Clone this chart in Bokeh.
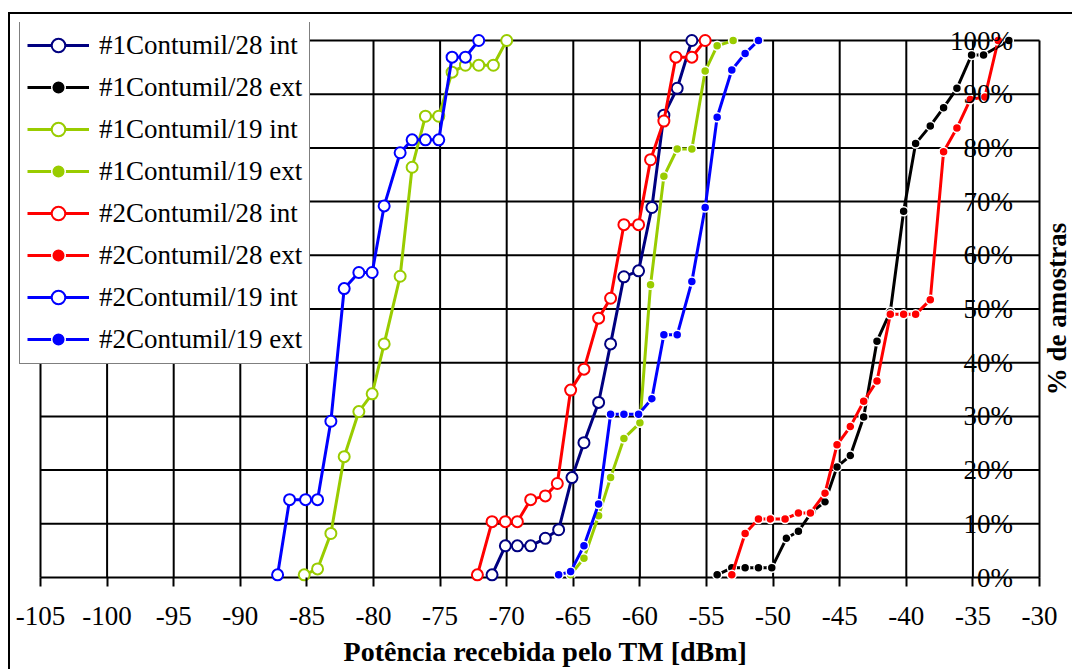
from bokeh.plotting import figure
from bokeh.models import Range1d, FixedTicker, Legend, LegendItem, Label, ColumnDataSource
from bokeh.core.properties import value
from bokeh.embed import file_html
from bokeh.resources import INLINE

# ---------------- data ----------------
x_ticks = [-105, -100, -95, -90, -85, -80, -75, -70, -65, -60, -55, -50, -45, -40, -35, -30]
x_tick_labels = ["-105", "-100", "-95", "-90", "-85", "-80", "-75", "-70", "-65", "-60",
                 "-55", "-50", "-45", "-40", "-35", "-30"]
y_ticks = [0, 10, 20, 30, 40, 50, 60, 70, 80, 90, 100]
y_tick_labels = ["0%", "10%", "20%", "30%", "40%", "50%", "60%", "70%", "80%", "90%", "100%"]

c1_28_int_x = [-71.1, -70.1, -69.2, -68.2, -67.1, -66.1, -65.1, -64.2, -63.1, -62.2, -61.2, -60.1, -59.1, -58.2, -57.2, -56.1]
c1_28_int_y = [0.5, 5.9, 5.9, 5.9, 7.3, 8.9, 18.6, 25.1, 32.6, 43.5, 56.0, 57.1, 68.9, 86.1, 91.1, 100]

c1_28_ext_x = [-54.2, -53.1, -52.1, -51.1, -50.1, -49.0, -48.1, -47.1, -46.1, -45.2, -44.2, -43.2, -42.2, -41.2, -40.2, -39.3, -38.2, -37.2, -36.2, -35.1, -34.2, -32.3]
c1_28_ext_y = [0.5, 1.8, 1.8, 1.8, 1.8, 7.3, 8.6, 12.2, 14.1, 20.6, 22.7, 29.9, 44.0, 49.5, 68.2, 80.8, 84.1, 87.5, 91.1, 97.3, 97.3, 100]

c1_19_int_x = [-85.2, -84.2, -83.2, -82.2, -81.1, -80.1, -79.2, -78.0, -77.1, -76.1, -75.1, -74.1, -73.1, -72.1, -71.0, -70.0]
c1_19_int_y = [0.5, 1.6, 8.2, 22.5, 30.9, 34.2, 43.5, 56.1, 76.4, 85.9, 85.9, 94.1, 95.4, 95.4, 95.4, 100]

c1_19_ext_x = [-65.2, -64.2, -63.1, -62.2, -61.2, -60.0, -59.2, -58.2, -57.2, -56.1, -55.1, -54.2, -53.0]
c1_19_ext_y = [0.5, 3.6, 11.5, 18.6, 25.9, 28.8, 54.5, 74.7, 79.8, 79.8, 94.3, 99.0, 100]

c2_28_int_x = [-72.2, -71.1, -70.1, -69.2, -68.2, -67.1, -66.2, -65.2, -64.2, -63.1, -62.2, -61.2, -60.1, -59.2, -58.2, -57.3, -56.1, -55.1]
c2_28_int_y = [0.5, 10.4, 10.4, 10.4, 14.5, 15.2, 17.5, 34.9, 38.8, 48.3, 52.0, 65.7, 65.7, 77.8, 85.0, 96.9, 96.9, 100]

c2_28_ext_x = [-53.1, -52.1, -51.1, -50.2, -49.1, -48.1, -47.2, -46.1, -45.2, -44.2, -43.2, -42.2, -41.2, -40.2, -39.3, -38.2, -37.2, -36.2, -35.2, -34.1, -33.1]
c2_28_ext_y = [0.5, 8.2, 10.9, 10.9, 10.9, 12.0, 12.0, 15.7, 24.7, 28.1, 32.8, 36.6, 49.0, 49.0, 49.0, 51.7, 79.3, 83.7, 89.0, 89.5, 100]

c2_19_int_x = [-87.2, -86.3, -85.1, -84.2, -83.2, -82.2, -81.1, -80.1, -79.2, -78.0, -77.1, -76.1, -75.1, -74.1, -73.1, -72.1]
c2_19_int_y = [0.5, 14.5, 14.5, 14.5, 29.1, 53.8, 56.8, 56.8, 69.2, 79.1, 81.5, 81.5, 81.5, 96.9, 96.9, 100]

c2_19_ext_x = [-66.1, -65.2, -64.2, -63.1, -62.2, -61.2, -60.1, -59.1, -58.2, -57.2, -56.1, -55.1, -54.2, -53.1, -52.1, -51.1]
c2_19_ext_y = [0.5, 1.1, 5.9, 13.7, 30.4, 30.4, 30.4, 33.3, 45.2, 45.2, 55.1, 68.9, 85.7, 94.5, 97.6, 100]

series_names = ["#1Contumil/28 int", "#1Contumil/28 ext", "#1Contumil/19 int", "#1Contumil/19 ext",
                "#2Contumil/28 int", "#2Contumil/28 ext", "#2Contumil/19 int", "#2Contumil/19 ext"]
series_x = [c1_28_int_x, c1_28_ext_x, c1_19_int_x, c1_19_ext_x, c2_28_int_x, c2_28_ext_x, c2_19_int_x, c2_19_ext_x]
series_y = [c1_28_int_y, c1_28_ext_y, c1_19_int_y, c1_19_ext_y, c2_28_int_y, c2_28_ext_y, c2_19_int_y, c2_19_ext_y]
series_colors = ["#000080", "#000000", "#99CC00", "#99CC00", "#FF0000", "#FF0000", "#0000FF", "#0000FF"]
series_open = [True, False, True, False, True, False, True, False]

FONT = "Liberation Serif"

# ---------------- geometry ----------------
X0, X1 = x_ticks[0], x_ticks[-1]
Y0, Y1 = y_ticks[0], y_ticks[-1]
AREA_W, AREA_H = 999, 537               # plot-area size in px
PAD_L, PAD_T, PAD_R, PAD_B = 22, 18, 33, 14   # extra frame room around the plot area
ppx = AREA_W / (X1 - X0)
ppy = AREA_H / (Y1 - Y0)

p = figure(frame_width=AREA_W + PAD_L + PAD_R, frame_height=AREA_H + PAD_T + PAD_B,
           x_range=Range1d(X0 - PAD_L / ppx, X1 + PAD_R / ppx),
           y_range=Range1d(Y0 - PAD_B / ppy, Y1 + PAD_T / ppy),
           output_backend="svg", toolbar_location=None, y_axis_location=None,
           min_border_left=8, min_border_right=0, min_border_top=8, min_border_bottom=0)
p.styles = {"margin-left": "8px", "margin-top": "12px",
            "border-left": "2px solid black", "border-top": "2px solid black"}
p.outline_line_color = None
p.xgrid.visible = False
p.ygrid.visible = False

# grid lines limited to the plot area
p.segment(x0=x_ticks, y0=[Y0] * len(x_ticks), x1=x_ticks, y1=[Y1] * len(x_ticks),
          line_color="black", line_width=2)
p.segment(x0=[X0] * len(y_ticks), y0=y_ticks, x1=[X1] * len(y_ticks), y1=y_ticks,
          line_color="black", line_width=2)

ax = p.xaxis[0]
ax.ticker = FixedTicker(ticks=x_ticks)
ax.major_label_overrides = {t: l for t, l in zip(x_ticks, x_tick_labels)}
ax.axis_line_color = None
ax.major_tick_line_width = 2
ax.major_tick_in = PAD_B
ax.major_tick_out = -5
ax.minor_tick_out = 0
ax.minor_tick_in = 0
ax.major_label_standoff = 15
ax.major_label_text_font = FONT
ax.major_label_text_font_size = "27px"
ax.major_label_text_color = "black"
ax.axis_label = "Potência recebida pelo TM [dBm]"
ax.axis_label_text_font = FONT
ax.axis_label_text_font_size = "28px"
ax.axis_label_text_font_style = "bold"
ax.axis_label_text_color = "black"
ax.axis_label_standoff = 8

items = []
for name, xs, ys, col, is_open in zip(series_names, series_x, series_y, series_colors, series_open):
    src = ColumnDataSource(dict(x=xs, y=ys))
    r_line = p.line("x", "y", source=src, line_color=col, line_width=3)
    if is_open:
        r_mark = p.scatter("x", "y", source=src, marker="circle", size=11,
                           fill_color="white", line_color=col, line_width=2)
    else:
        r_mark = p.scatter("x", "y", source=src, marker="circle", size=9,
                           fill_color=col, line_color="white", line_width=1.5)
    items.append(LegendItem(label=name, renderers=[r_line, r_mark]))

# y tick labels along the vertical axis crossing at -35
y_cross = -35
lab_src = ColumnDataSource(dict(x=[y_cross] * len(y_ticks), y=y_ticks, t=y_tick_labels))
p.text("x", "y", text="t", source=lab_src, x_offset=40, text_align="right", text_baseline="middle",
       text_font=value(FONT), text_font_size="27px", text_color="black")

p.add_layout(Label(x=X1, y=(Y0 + Y1) / 2, x_offset=17, text="% de amostras", angle=90, angle_units="deg",
                   text_align="center", text_baseline="middle", text_font=FONT,
                   text_font_size="27px", text_font_style="bold", text_color="black"))

legend = Legend(items=items, location=(1, 213 + PAD_B), padding=7, spacing=8,
                glyph_height=34, label_height=34, glyph_width=62, label_standoff=10,
                label_text_font=FONT, label_text_font_size="27px", label_text_color="black",
                border_line_color="black", border_line_width=1.5,
                background_fill_color="white", background_fill_alpha=1.0)
p.add_layout(legend)

open("out.html", "w").write(file_html(p, INLINE))
